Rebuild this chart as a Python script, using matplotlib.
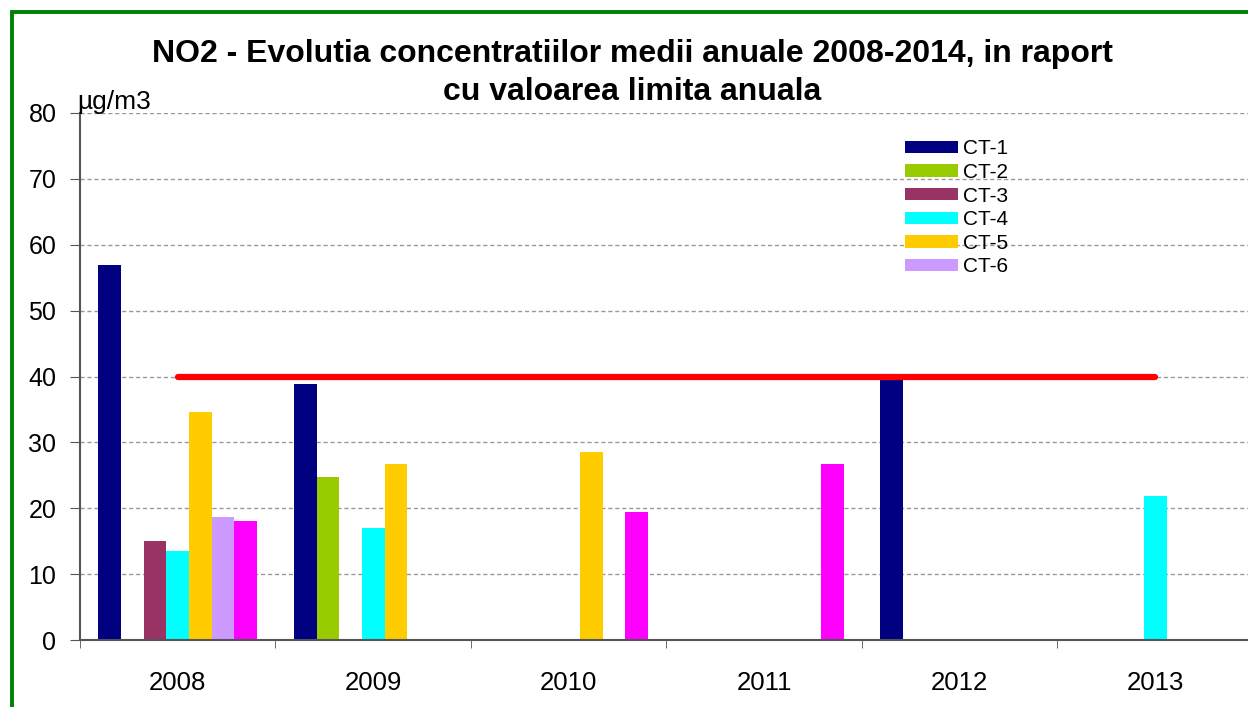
import matplotlib
matplotlib.use("Agg")
import matplotlib.pyplot as plt
import numpy as np
from matplotlib.patches import Rectangle

plt.rcParams['font.family'] = ['Liberation Sans', 'DejaVu Sans']

# =========================
# DATA
# =========================
years = ["2008", "2009", "2010", "2011", "2012", "2013"]
series_names = ["CT-1", "CT-2", "CT-3", "CT-4", "CT-5", "CT-6", "CT-7"]
ct1 = [57.0, 38.8, np.nan, np.nan, 39.6, np.nan]
ct2 = [np.nan, 24.8, np.nan, np.nan, np.nan, np.nan]
ct3 = [15.0, np.nan, np.nan, np.nan, np.nan, np.nan]
ct4 = [13.5, 17.0, np.nan, np.nan, np.nan, 21.9]
ct5 = [34.6, 26.7, 28.5, np.nan, np.nan, np.nan]
ct6 = [18.6, np.nan, np.nan, np.nan, np.nan, np.nan]
ct7 = [18.0, np.nan, 19.4, 26.7, np.nan, np.nan]
limit_value = 40

colors = ["#000080", "#99cc00", "#993366", "#00ffff", "#ffcc00", "#cc99ff", "#ff00ff"]
all_series = [ct1, ct2, ct3, ct4, ct5, ct6, ct7]

# =========================
# FIGURE
# =========================
fig = plt.figure(figsize=(12.48, 7.07), dpi=100)
ax = fig.add_axes([80 / 1248, 1 - 640 / 707, 1173 / 1248, 527 / 707])

x = np.arange(len(years))
bw = 0.116
n = len(all_series)
for i, (vals, c, name) in enumerate(zip(all_series, colors, series_names)):
    offs = (i - (n - 1) / 2) * bw
    label = name if i < 6 else "_nolegend_"  # CT-7 has no legend entry in the original
    ax.bar(x + offs, vals, width=bw, color=c, label=label, zorder=2)

# annual limit value line
ax.plot([x[0], x[-1]], [limit_value, limit_value], color="#ff0000",
        linewidth=4.5, solid_capstyle="round", zorder=3)

ax.set_xlim(-0.5, len(years) - 0.5)
ax.set_ylim(0, 80)
ax.set_yticks(np.arange(0, 81, 10))
ax.set_xticks(x)
ax.set_xticklabels(years)
ax.set_xticks(np.arange(-0.5, len(years), 1), minor=True)
ax.tick_params(axis='x', which='major', length=0, pad=22, labelsize=18.5)
ax.tick_params(axis='x', which='minor', length=6, color="#555555", direction='out')
ax.tick_params(axis='y', length=7, color="#555555", labelsize=18, pad=10)

for s in ["top", "right"]:
    ax.spines[s].set_visible(False)
for s in ["left", "bottom"]:
    ax.spines[s].set_color("#555555")
    ax.spines[s].set_linewidth(1.5)

ax.yaxis.grid(True, linestyle=(0, (3, 2)), color="#999999", linewidth=1, zorder=0)
ax.set_axisbelow(True)

ax.text(-0.002, 0.998, "µg/m3", transform=ax.transAxes, fontsize=19,
        ha='left', va='bottom')

fig.text(632 / 1248, 1 - 73 / 707,
         "NO2 - Evolutia concentratiilor medii anuale 2008-2014, in raport\ncu valoarea limita anuala",
         ha='center', va='center', fontsize=23, fontweight='bold', linespacing=1.35)

ax.legend(loc='upper left', bbox_to_anchor=(895 / 1248, 1 - 129 / 707),
          bbox_transform=fig.transFigure, frameon=False, fontsize=15,
          handlelength=2.5, handleheight=0.53, labelspacing=0.22,
          handletextpad=0.25, borderpad=0)

# green frame around the chart
fig.patches.append(Rectangle((12 / 1248, -0.1), 1.2, 1.1 - 12 / 707,
                             transform=fig.transFigure, fill=False,
                             edgecolor="#008000", linewidth=2.8))

fig.savefig("out.png", dpi=100)
